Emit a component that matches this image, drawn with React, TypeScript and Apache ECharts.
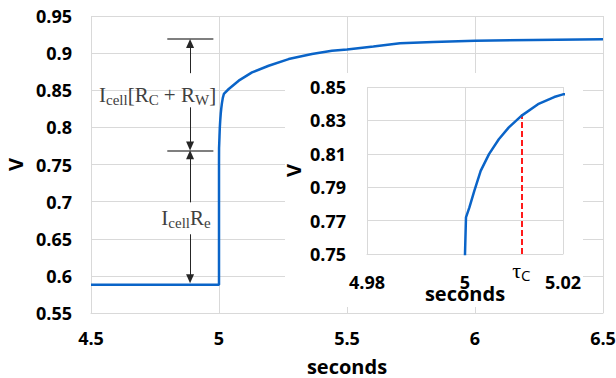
import React, { useEffect, useRef } from "react";
import * as echarts from "echarts";

// Voltage response (seconds, V)
const times = [4.5, 5.0, 5.0, 5.0002, 5.0009, 5.0019, 5.0032, 5.0049, 5.0069, 5.0089, 5.0115, 5.0149, 5.0182, 5.02, 5.038, 5.077, 5.129, 5.194, 5.272, 5.363, 5.441, 5.5, 5.603, 5.707, 5.837, 6.0, 6.227, 6.5];
const volts = [0.588, 0.588, 0.75, 0.7719, 0.7779, 0.7878, 0.7998, 0.8098, 0.8187, 0.8257, 0.8327, 0.8397, 0.844, 0.8456, 0.8517, 0.8629, 0.874, 0.883, 0.892, 0.8987, 0.9031, 0.905, 0.909, 0.9134, 0.9151, 0.9165, 0.9178, 0.9188];

// axis ranges [min, max, interval]
const mainX = [4.5, 6.5, 0.5];
const mainY = [0.55, 0.95, 0.05];
const insetX = [4.98, 5.02, 0.02];
const insetY = [0.75, 0.85, 0.02];

// annotation values
const arrowTime = 4.887;
const barTimes = [4.798, 4.978];
const levels = [0.9188, 0.769, 0.59]; // top bar, middle bar, baseline
const arrowStarts = [0.873, 0.827, 0.699, 0.656];
const labelPos = [
  [4.76, 0.844],
  [4.871, 0.678],
];
const tau = 5.0115;
const tauV = 0.8335;

const fmt = (v: number) => String(+v.toFixed(2));
const SANS = "'Open Sans', 'Noto Sans', sans-serif";
const SERIF = "'Liberation Serif', 'DejaVu Serif', serif";

export default function App() {
  const ref = useRef<HTMLDivElement>(null);
  useEffect(() => {
    document.body.style.margin = "0";
    const chart = echarts.init(ref.current!, null, { renderer: "svg" });
    const data = times.map((t, i) => [t, volts[i]]);
    const tickLabel = { fontFamily: SANS, fontWeight: "bold", fontSize: 18, color: "#000", formatter: fmt };
    const nameStyle = { fontFamily: SANS, fontWeight: "bold", fontSize: 20, lineHeight: 20, color: "#000" };
    const split = { show: true, lineStyle: { color: "#d9d9d9", width: 1 } };
    const axLine = { show: true, lineStyle: { color: "#d9d9d9", width: 1 } };

    const arrowStyle = { color: "#262626", width: 1, type: "solid" };
    const barStyle = { color: "#7f7f7f", width: 2, type: "solid" };
    const off = 0.006;
    const arrow = (from: number, to: number) => [
      { coord: [arrowTime, from], symbol: "none", lineStyle: arrowStyle },
      { coord: [arrowTime, to], symbol: "triangle", symbolSize: [8, 9], lineStyle: arrowStyle },
    ];
    const bar = (v: number) => [
      { coord: [barTimes[0], v], symbol: "none", lineStyle: barStyle },
      { coord: [barTimes[1], v], symbol: "none", lineStyle: barStyle },
    ];

    chart.setOption({
      animation: false,
      grid: [
        { left: 91, top: 16, right: 13, bottom: 65, outerBoundsMode: "none", containLabel: false },
        { left: 367, top: 87, width: 196, height: 167, outerBoundsMode: "none", containLabel: false },
      ],
      xAxis: [
        {
          type: "value", gridIndex: 0, min: mainX[0], max: mainX[1], interval: mainX[2],
          axisLine: axLine, axisTick: { show: false }, splitLine: split,
          axisLabel: { ...tickLabel, margin: 16 },
          name: "seconds", nameLocation: "middle", nameGap: 43, nameMoveOverlap: false, nameTextStyle: nameStyle,
        },
        {
          type: "value", gridIndex: 1, min: insetX[0], max: insetX[1], interval: insetX[2], z: 5,
          axisLine: axLine, axisTick: { show: false }, splitLine: split,
          axisLabel: { ...tickLabel, margin: 19 },
          name: "seconds", nameLocation: "middle", nameGap: 29, nameMoveOverlap: false, nameTextStyle: nameStyle,
        },
      ],
      yAxis: [
        {
          type: "value", gridIndex: 0, min: mainY[0], max: mainY[1], interval: mainY[2],
          axisLine: { show: false }, axisTick: { show: false }, splitLine: split,
          axisLabel: { ...tickLabel, margin: 19 },
          name: "V", nameLocation: "middle", nameRotate: 90, nameGap: 66, nameMoveOverlap: false, nameTextStyle: nameStyle,
        },
        {
          type: "value", gridIndex: 1, min: insetY[0], max: insetY[1], interval: insetY[2], z: 5,
          axisLine: { show: false }, axisTick: { show: false }, splitLine: split,
          axisLabel: { ...tickLabel, margin: 21 },
          name: "V", nameLocation: "middle", nameRotate: 90, nameGap: 64, nameMoveOverlap: false, nameTextStyle: nameStyle,
        },
      ],
      series: [
        {
          type: "line", xAxisIndex: 0, yAxisIndex: 0, data, showSymbol: false, z: 2,
          lineStyle: { color: "#0a64c8", width: 2.5 }, itemStyle: { color: "#0a64c8" },
          markLine: {
            silent: true, animation: false, label: { show: false },
            data: [
              bar(levels[0]),
              bar(levels[1]),
              arrow(arrowStarts[0], levels[0] - off),
              arrow(arrowStarts[1], levels[1] + off),
              arrow(arrowStarts[2], levels[1] - off),
              arrow(arrowStarts[3], levels[2] + off),
            ],
          },
        },
        {
          type: "line", xAxisIndex: 1, yAxisIndex: 1, data, showSymbol: false, z: 6, clip: true,
          lineStyle: { color: "#0a64c8", width: 2.5 }, itemStyle: { color: "#0a64c8" },
          markLine: {
            silent: true, animation: false, label: { show: false }, symbol: "none",
            data: [
              [
                { coord: [tau, insetY[0]], lineStyle: { color: "#ff1a1a", width: 2, type: [6, 3] } },
                { coord: [tau, tauV], lineStyle: { color: "#ff1a1a", width: 2, type: [6, 3] } },
              ],
            ],
          },
        },
      ],
    });

    const p1 = chart.convertToPixel({ gridIndex: 0 }, labelPos[0]) as number[];
    const p2 = chart.convertToPixel({ gridIndex: 0 }, labelPos[1]) as number[];
    const pt = chart.convertToPixel({ gridIndex: 1 }, [tau, insetY[0]]) as number[];
    const m = { fill: "#404040", fontFamily: SERIF, fontSize: 21, lineHeight: 25 };
    const s = { fill: "#404040", fontFamily: SERIF, fontSize: 15, lineHeight: 15, verticalAlign: "bottom" };

    chart.setOption({
      graphic: [
        { type: "rect", z: 1, silent: true, shape: { x: 285, y: 73, width: 298, height: 234 }, style: { fill: "#fff" } },
        {
          type: "text", z: 10, x: p1[0], y: p1[1],
          style: { text: "{m|I}{s|cell}{m|[R}{s|C}{m| + R}{s|W}{m|]}", rich: { m, s }, align: "center", verticalAlign: "middle" },
        },
        {
          type: "text", z: 10, x: p2[0], y: p2[1],
          style: { text: "{m|I}{s|cell}{m|R}{s|e}", rich: { m, s }, align: "center", verticalAlign: "middle" },
        },
        {
          type: "text", z: 10, x: pt[0], y: pt[1] + 16,
          style: {
            text: "{m|τ}{s|C}",
            rich: { m: { ...m, fill: "#000", fontSize: 22 }, s: { ...s, fill: "#000", fontSize: 15, fontFamily: SANS } },
            align: "center", verticalAlign: "middle",
          },
        },
      ],
    });

    return () => chart.dispose();
  }, []);
  return <div ref={ref} style={{ width: 616, height: 378 }} />;
}
